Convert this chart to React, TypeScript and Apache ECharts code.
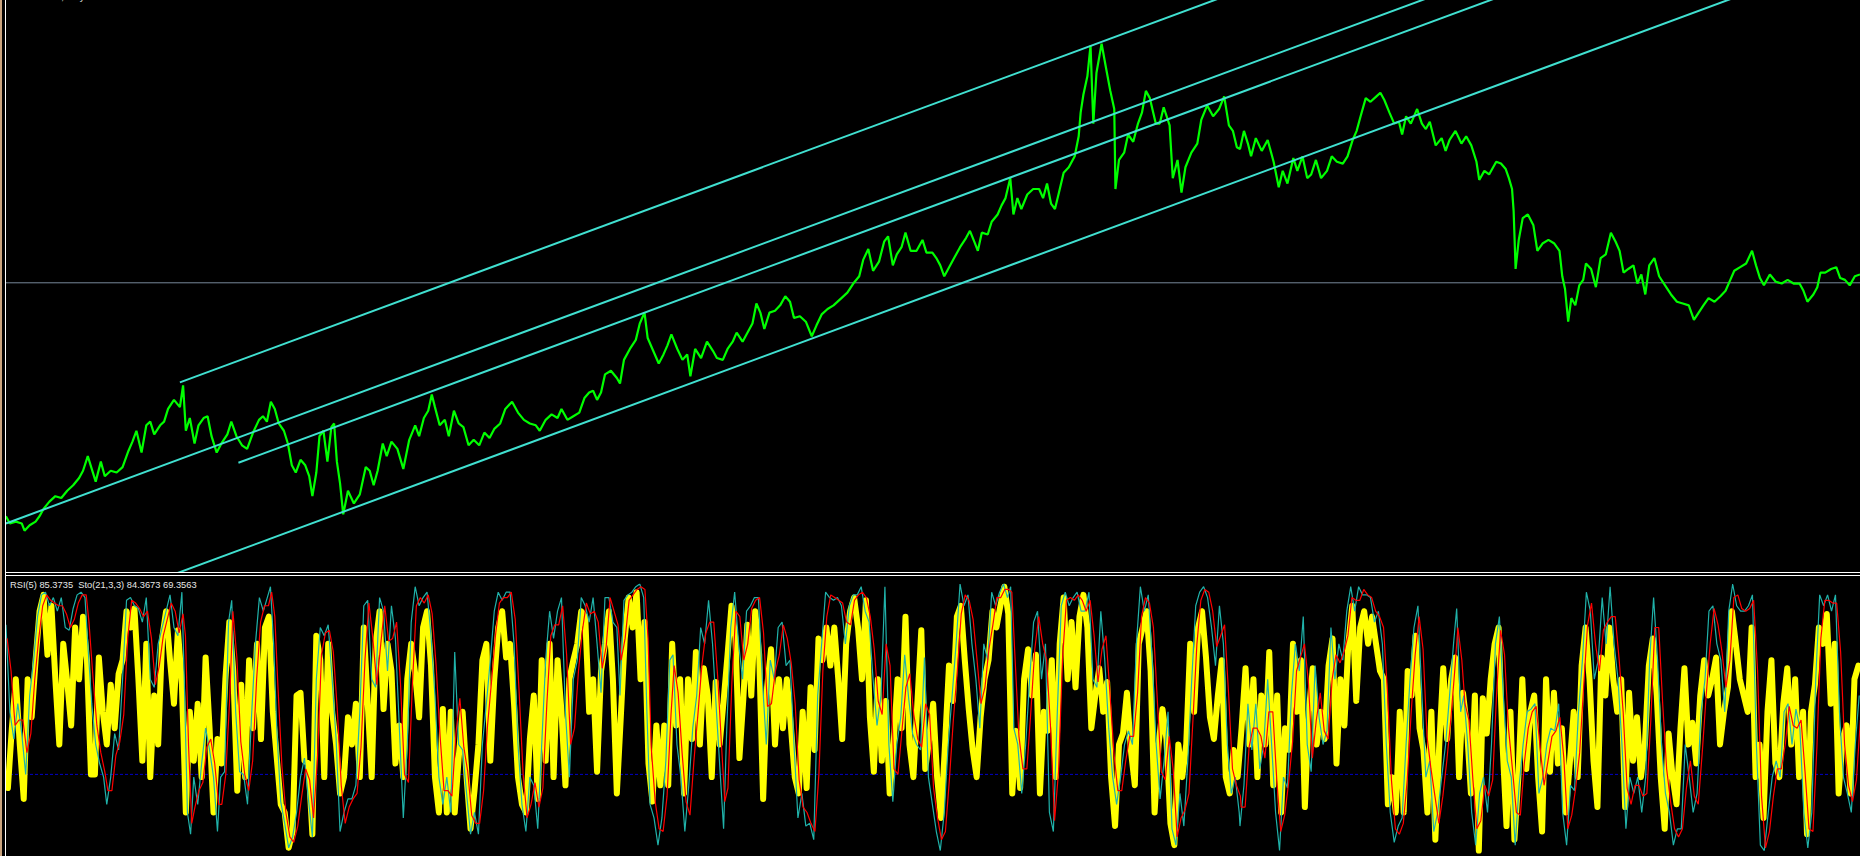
import React, { useEffect, useRef } from "react";
import * as echarts from "echarts";

// ---------------- main panel: price (bar index, close) ----------------
const priceSeg1: [number, number][] = [
  [15,0.9400],[25,0.9300],[40,0.9325],[55,0.9300],[62,0.9200],[75,0.9275],[90,0.9325],[100,0.9400],[110,0.9500],[125,0.9600],[140,0.9675],[155,0.9650],[170,0.9750],[185,0.9825],[200,0.9925],[210,1.0025],[222,1.0225],[232,1.0050],[242,0.9875],[255,1.0150],[265,0.9950],[280,1.0025],[295,1.0000],[310,1.0075],[325,1.0300],[335,1.0425],[345,1.0575],[358,1.0275],[370,1.0650],[380,1.0700],[390,1.0525],[405,1.0650],[415,1.0700],[425,1.0875],[440,1.1000],[455,1.0900],[463,1.1200],[470,1.0575],[480,1.0750],[492,1.0400],[502,1.0650],[515,1.0750],[525,1.0775],[535,1.0500],[548,1.0275],[560,1.0400],[575,1.0525],[585,1.0700],[598,1.0500],[612,1.0375],[625,1.0325],[640,1.0550],[655,1.0725],[665,1.0775],[675,1.0700],[685,1.0975],[695,1.0875],[705,1.0675],[718,1.0575],[728,1.0400],[738,1.0100],[748,1.0000],[760,1.0175],[772,1.0100],[782,0.9950],[790,0.9675],[800,1.0000],[808,1.0500],[818,1.0575],[828,1.0150],[838,1.0625],[845,1.0675],[852,1.0150],[860,0.9850],[868,0.9425],[880,0.9750],[895,0.9575],[910,0.9700],[925,1.0075],[935,1.0025],[945,0.9825],[955,1.0025],[968,1.0400],[978,1.0225],[990,1.0425],[1005,1.0325],[1020,1.0050],[1035,1.0450],[1050,1.0650],[1060,1.0500],[1072,1.0750],[1083,1.0850],[1092,1.1075],[1100,1.0900],[1112,1.0650],[1125,1.0725],[1135,1.0500],[1148,1.0850],[1160,1.0675],[1172,1.0625],[1185,1.0375],[1198,1.0450],[1212,1.0375],[1225,1.0550],[1238,1.0475],[1250,1.0600],[1265,1.0675],[1278,1.0875],[1295,1.0975],[1310,1.0825],[1325,1.0725],[1340,1.0675],[1355,1.0650],[1365,1.0575],[1380,1.0725],[1395,1.0800],[1410,1.0750],[1420,1.0875],[1435,1.0725],[1450,1.0775],[1465,1.0825],[1478,1.1025],[1490,1.1100],[1500,1.1125],[1510,1.1000],[1520,1.1100],[1530,1.1350],[1545,1.1400],[1560,1.1300],
];
const priceSeg2: [number, number][] = [
  [1568,1.1225],[1578,1.1550],[1593,1.1700],[1608,1.1825],[1618,1.2050],[1630,1.2200],[1638,1.1850],[1650,1.1700],[1666,1.1500],[1678,1.1625],[1688,1.1750],[1698,1.1900],[1713,1.1700],[1726,1.1550],[1738,1.1625],[1746,1.1325],[1758,1.1700],[1773,1.1575],[1788,1.1800],[1803,1.1675],[1813,1.1575],[1828,1.1550],[1840,1.1700],[1853,1.1800],[1863,1.1925],[1878,1.1800],[1893,1.1950],[1903,1.2050],[1913,1.2325],[1923,1.2200],[1933,1.1975],[1946,1.2200],[1960,1.2225],[1973,1.2300],[1986,1.2425],[1998,1.2350],[2008,1.2125],[2023,1.2150],[2038,1.2075],[2053,1.1875],[2065,1.2025],[2078,1.2175],[2093,1.2250],[2108,1.2300],[2128,1.2400],[2143,1.2475],[2158,1.2600],[2173,1.2700],[2183,1.2925],[2196,1.3075],[2208,1.2775],[2223,1.2900],[2236,1.3175],[2246,1.3250],[2258,1.2850],[2268,1.3000],[2280,1.3100],[2290,1.3300],[2303,1.3050],[2318,1.3050],[2333,1.3200],[2343,1.3025],[2358,1.3025],[2368,1.2950],[2378,1.2850],[2388,1.2700],[2398,1.2800],[2413,1.2950],[2428,1.3100],[2443,1.3225],[2453,1.3325],[2466,1.3150],[2473,1.3050],[2483,1.3300],[2498,1.3275],[2508,1.3450],[2523,1.3550],[2533,1.3675],[2543,1.3775],[2555,1.4050],[2563,1.3550],[2573,1.3775],[2583,1.3625],[2598,1.3825],[2613,1.3900],[2628,1.3900],[2638,1.3775],[2648,1.3975],[2658,1.3700],[2668,1.3625],[2678,1.3850],[2690,1.4125],[2703,1.4200],[2718,1.4350],[2728,1.4625],[2733,1.4950],[2740,1.5200],[2750,1.5450],[2758,1.5875],[2765,1.4800],[2773,1.5500],[2786,1.5900],[2796,1.5600],[2808,1.5250],[2818,1.5000],[2821,1.3900],[2830,1.4300],[2843,1.4400],[2853,1.4650],[2866,1.4550],[2878,1.4800],[2888,1.4950],[2898,1.5250],[2908,1.5150],[2923,1.4800],[2933,1.4800],[2943,1.5025],[2958,1.4775],[2966,1.4050],[2978,1.4300],[2988,1.3850],[2998,1.4200],[3013,1.4400],[3028,1.4525],[3038,1.4850],[3053,1.5050],[3068,1.4900],[3083,1.5000],[3096,1.5175],[3108,1.4775],[3118,1.4700],[3128,1.4475],
];
const priceSeg3: [number, number][] = [
  [3136,1.4450],[3146,1.4700],[3156,1.4525],[3164,1.4350],[3176,1.4600],[3191,1.4425],[3206,1.4575],[3221,1.4275],[3234,1.3925],[3244,1.4150],[3256,1.3975],[3271,1.4325],[3281,1.4150],[3294,1.4350],[3306,1.4050],[3316,1.4100],[3328,1.4300],[3341,1.4050],[3356,1.4150],[3368,1.4350],[3381,1.4275],[3396,1.4250],[3408,1.4350],[3421,1.4575],[3431,1.4700],[3441,1.4900],[3454,1.5150],[3466,1.5100],[3481,1.5175],[3491,1.5225],[3501,1.5125],[3514,1.4950],[3526,1.4800],[3538,1.4825],[3546,1.4650],[3556,1.4900],[3568,1.4800],[3584,1.5000],[3596,1.4800],[3606,1.4725],[3616,1.4825],[3631,1.4500],[3646,1.4600],[3656,1.4425],[3666,1.4575],[3681,1.4700],[3696,1.4525],[3708,1.4625],[3721,1.4500],[3734,1.4275],[3741,1.4025],[3754,1.4150],[3766,1.4100],[3784,1.4275],[3796,1.4250],[3808,1.4175],[3816,1.4050],[3824,1.3900],[3828,1.3600],[3833,1.2800],[3841,1.3200],[3851,1.3500],[3864,1.3550],[3878,1.3400],[3888,1.3050],[3901,1.3150],[3916,1.3200],[3931,1.3150],[3944,1.3050],[3951,1.2700],[3958,1.2525],[3966,1.2075],[3974,1.2400],[3984,1.2300],[3994,1.2575],[4004,1.2650],[4011,1.2875],[4024,1.2800],[4036,1.2550],[4048,1.2950],[4061,1.3000],[4074,1.3300],[4086,1.3175],[4096,1.3050],[4106,1.2750],[4118,1.2800],[4131,1.2850],[4141,1.2600],[4151,1.2725],[4161,1.2450],[4171,1.2850],[4184,1.2950],[4196,1.2700],[4211,1.2575],[4226,1.2450],[4241,1.2350],[4256,1.2325],[4271,1.2300],[4284,1.2100],[4296,1.2200],[4308,1.2300],[4321,1.2400],[4336,1.2350],[4351,1.2425],[4364,1.2500],[4376,1.2650],[4386,1.2775],[4401,1.2825],[4416,1.2875],[4431,1.3050],[4441,1.2850],[4451,1.2675],[4461,1.2575],[4476,1.2725],[4491,1.2625],[4506,1.2600],[4521,1.2650],[4536,1.2600],[4551,1.2600],[4561,1.2500],[4571,1.2350],[4586,1.2450],[4596,1.2550],[4604,1.2750],[4616,1.2750],[4631,1.2800],[4644,1.2825],[4654,1.2675],[4666,1.2650],[4678,1.2575],[4691,1.2700],[4704,1.2725],
];
const bidPrice = 1.261;

// trend lines: [startBar, startPrice], [endBar, endPrice]
const trendA: [number, number][] = [[455, 1.124], [3100, 1.6556]];
const trendB: [number, number][] = [[15, 0.930], [3620, 1.6546]];
const trendC: [number, number][] = [[603, 1.0135], [3780, 1.652]];
const trendD: [number, number][] = [[400, 0.852], [4400, 1.656]];

// ---------------- lower panel ----------------
const rsiLevel = 30;
const rsiStartBar = 20;
const rsiStepBars = 10;
const rsiValues: number[] = [
  25,47,65,41,21,65,51,72,90,96,74,92,65,41,78,64,48,84,65,88,72,30,30,73,53,41,63,47,67,72,90,84,91,65,35,78,29,59,41,80,90,72,56,83,63,16,53,35,56,29,73,47,16,43,34,65,86,68,24,63,29,72,47,78,43,84,88,53,36,19,16,3,9,59,60,35,34,8,81,72,29,78,53,41,23,29,51,41,56,29,84,56,29,78,90,54,78,68,34,48,29,65,78,67,51,84,90,70,29,16,54,16,53,16,36,53,29,10,24,41,72,78,35,65,84,90,73,78,56,29,19,16,43,59,21,72,35,78,29,72,53,26,65,72,78,90,88,53,65,31,68,78,90,65,23,
  51,80,95,84,97,65,86,34,20,48,26,48,26,78,48,65,23,65,43,75,41,69,59,29,64,41,57,74,92,80,36,58,85,59,90,74,21,62,76,41,65,47,65,48,29,23,53,25,62,39,80,72,84,70,84,65,43,78,90,95,84,65,94,51,31,65,35,57,23,41,65,47,88,41,29,56,83,32,43,56,29,14,41,70,57,88,92,72,54,39,29,51,65,72,90,84,92,99,89,23,46,25,65,76,59,74,23,53,46,72,29,78,95,65,86,62,88,96,84,47,59,69,53,64,29,11,41,45,60,39,26,78,84,90,68,16,41,54,43,12,4,41,29,41,78,53,84,90,73,51,43,59,72,29,23,39,29,
  47,69,41,65,29,59,41,75,26,59,16,47,39,78,53,72,18,53,69,41,53,43,70,80,34,65,48,78,92,57,84,90,78,88,78,68,65,19,29,16,53,16,68,59,81,47,39,16,53,6,41,69,43,65,73,29,60,47,23,59,2,58,45,65,78,84,41,11,53,6,29,65,32,53,59,29,9,65,31,60,34,47,16,34,53,29,70,84,65,35,18,73,59,84,65,53,65,18,60,35,51,29,41,70,80,59,29,10,45,29,19,47,69,41,49,34,59,72,59,65,73,41,53,62,90,78,65,59,53,84,29,41,14,53,72,34,29,56,69,41,65,29,53,8,53,63,84,78,89,56,78,23,43,48,23,65,70,
];
// [bar, %K main, %D signal]
const stochSeg1: [number, number, number][] = [
  [15,85,80],[25,53,68],[35,43,48],[45,56,50],[55,45,50],[65,30,38],[75,59,45],[85,72,65],[95,88,80],[105,96,92],[115,97,96],[125,92,94],[135,95,93],[145,90,92],[155,95,92],[165,84,89],[175,83,84],[185,91,87],[195,96,93],[205,97,96],[215,95,96],[222,78,86],[232,56,66],[242,41,48],[252,34,38],[262,29,31],[270,19,24],[280,29,24],[290,45,37],[300,39,42],[310,65,52],[320,94,80],[330,95,94],[340,92,93],[350,91,91],[360,86,88],[370,95,90],[380,65,80],[390,62,63],[400,78,70],[410,84,81],[420,90,87],[430,96,93],[440,84,90],[450,81,82],[460,97,89],[466,65,81],[474,16,40],[482,8,12],[490,29,18],[500,19,24],[510,34,27],[520,47,40],[530,39,43],[540,29,34],[550,9,19],[558,29,19],[568,31,30],[578,86,58],[586,94,90],[596,53,73],[606,31,42],[616,30,30],[626,19,24],[636,51,35],[646,78,65],[656,95,86],[666,90,92],[676,95,92],[684,99,97],[692,78,88],[700,47,62],[710,20,33],[720,12,16],[730,3,7],[740,7,5],[750,16,11],[760,29,22],[770,36,32],[780,21,28],[790,7,14],[800,65,36],[810,84,74],[820,81,82],[830,85,83],[840,65,75],[850,43,54],[860,9,26],[870,16,12],[880,21,18],[890,21,21],[900,26,23],[910,53,40],[920,92,72],[930,94,93],[940,65,80],[950,62,63],[960,95,78],[970,90,92],[980,68,79],[990,92,80],[1000,80,86],[1010,47,63],[1020,14,30],[1030,41,27],[1040,86,63],[1050,99,92],[1060,92,95],[1070,95,93],[1080,97,96],[1090,81,89],[1100,59,70],[1110,29,44],[1120,19,24],[1130,29,24],[1140,16,22],[1150,75,45],[1160,41,58],[1170,39,40],[1180,23,31],[1190,8,15],[1200,16,12],[1210,8,12],[1220,41,24],[1230,56,48],[1240,72,64],[1250,90,81],[1260,97,93],[1270,94,95],[1280,97,95],[1290,97,97],[1300,78,87],[1310,41,60],[1320,19,30],[1330,9,14],[1340,29,19],[1350,26,27],[1360,10,18],[1370,41,25],[1380,72,56],[1390,90,81],[1400,80,85],[1410,90,85],[1420,95,92],[1430,53,74],[1440,29,41],[1450,65,47],[1460,72,68],[1470,95,83],[1480,92,93],[1490,86,89],[1500,95,90],[1510,78,86],[1520,60,69],[1530,95,77],[1540,95,95],[1550,86,90],[1560,84,85],
];
const stochSeg2: [number, number, number][] = [
  [1568,59,72],[1578,94,80],[1588,96,94],[1598,97,96],[1608,99,98],[1618,100,99],[1628,95,98],[1636,53,80],[1644,19,40],[1654,14,20],[1664,4,10],[1674,14,9],[1684,35,22],[1694,72,52],[1702,74,70],[1712,41,60],[1722,29,38],[1732,9,20],[1742,26,15],[1752,47,35],[1762,59,52],[1772,84,70],[1782,78,82],[1792,94,86],[1802,78,86],[1812,53,66],[1822,29,40],[1830,10,20],[1838,47,25],[1848,84,64],[1858,97,90],[1868,78,88],[1878,65,72],[1888,90,78],[1898,92,91],[1908,95,94],[1918,95,95],[1928,65,82],[1938,41,55],[1948,72,56],[1958,65,68],[1968,84,74],[1978,86,85],[1988,70,80],[1998,72,71],[2008,41,56],[2018,14,28],[2028,23,18],[2038,11,16],[2048,12,12],[2058,6,9],[2068,59,30],[2078,78,68],[2088,97,88],[2098,95,96],[2108,94,95],[2118,95,94],[2128,92,93],[2138,78,86],[2148,92,85],[2158,96,94],[2168,96,96],[2178,99,97],[2188,90,95],[2198,86,88],[2208,65,76],[2218,48,57],[2228,59,52],[2238,99,78],[2248,41,70],[2258,20,32],[2268,41,30],[2278,51,46],[2288,74,62],[2298,58,67],[2308,45,52],[2318,41,43],[2328,39,40],[2338,73,56],[2348,29,52],[2358,19,25],[2368,9,14],[2378,2,6],[2388,16,9],[2398,41,28],[2408,59,50],[2418,78,68],[2428,100,89],[2438,92,96],[2448,96,94],[2458,78,87],[2468,65,72],[2478,47,56],[2488,78,62],[2498,72,76],[2508,97,85],[2518,92,95],[2528,97,95],[2538,100,98],[2548,95,98],[2556,99,97],[2564,47,73],[2574,41,44],[2584,23,32],[2594,41,32],[2604,65,53],[2614,86,76],[2624,90,88],[2634,65,78],[2644,78,72],[2654,16,47],[2664,9,13],[2674,53,31],[2684,92,72],[2694,97,94],[2704,92,95],[2714,95,94],[2724,97,96],[2734,90,94],[2744,90,90],[2754,97,94],[2764,65,81],[2774,62,64],[2784,90,76],[2794,72,81],[2804,47,60],[2814,29,38],[2824,19,24],[2834,29,24],[2844,41,35],[2854,46,44],[2864,41,44],[2874,78,60],[2884,99,88],[2894,90,95],[2904,96,93],[2914,72,84],[2924,41,57],[2934,21,31],[2944,35,28],[2954,53,44],[2964,10,32],[2974,4,7],[2984,23,14],[2994,11,17],[3004,35,23],[3014,65,50],[3024,92,78],[3034,97,94],[3044,99,98],[3054,95,97],[3064,84,90],[3074,70,77],[3084,92,81],[3094,78,85],[3104,41,60],[3114,23,32],[3124,29,26],[3134,16,22],
];
const stochSeg3: [number, number, number][] = [
  [3136,11,18],[3146,26,18],[3156,56,40],[3166,39,47],[3176,56,47],[3186,32,44],[3196,41,36],[3206,65,53],[3216,41,53],[3226,16,28],[3236,2,9],[3246,29,15],[3256,25,27],[3266,59,42],[3276,78,68],[3286,68,73],[3296,88,78],[3306,41,64],[3316,31,36],[3326,70,50],[3336,51,60],[3346,41,46],[3356,46,43],[3366,84,65],[3376,65,74],[3386,78,71],[3396,72,75],[3406,90,81],[3416,99,95],[3426,90,94],[3436,99,94],[3446,96,98],[3456,96,96],[3466,95,95],[3476,86,90],[3486,90,88],[3496,78,84],[3506,41,60],[3516,16,28],[3526,5,10],[3536,11,8],[3546,14,12],[3556,41,28],[3566,65,53],[3576,84,74],[3586,92,88],[3596,59,76],[3606,29,44],[3616,35,32],[3626,9,22],[3636,16,12],[3646,29,22],[3656,41,35],[3666,59,50],[3676,78,68],[3684,91,84],[3694,53,72],[3702,59,56],[3712,41,50],[3722,16,28],[3732,4,10],[3742,23,13],[3752,29,26],[3762,16,22],[3772,41,28],[3782,78,60],[3792,88,83],[3802,59,74],[3812,35,47],[3822,29,32],[3832,4,16],[3842,26,15],[3852,41,34],[3862,53,47],[3872,54,53],[3882,56,55],[3892,23,40],[3902,29,26],[3912,41,35],[3922,47,44],[3932,46,46],[3942,56,51],[3952,16,36],[3962,4,10],[3972,26,15],[3982,24,25],[3992,53,38],[4002,72,62],[4012,97,85],[4022,90,93],[4032,65,78],[4042,72,68],[4052,95,83],[4062,78,86],[4072,99,88],[4082,78,88],[4092,65,72],[4102,41,53],[4112,10,25],[4122,29,19],[4132,23,26],[4142,29,26],[4152,16,22],[4162,29,23],[4172,72,50],[4182,95,84],[4192,72,84],[4202,41,56],[4212,23,32],[4222,16,20],[4232,4,10],[4242,10,7],[4252,10,10],[4262,41,25],[4272,29,35],[4282,16,22],[4292,23,19],[4302,53,38],[4312,65,59],[4322,90,78],[4332,92,91],[4342,78,85],[4352,72,75],[4362,53,62],[4372,90,72],[4382,100,95],[4392,92,96],[4402,90,91],[4412,90,90],[4422,92,91],[4432,96,94],[4442,41,68],[4452,4,22],[4462,2,3],[4472,16,9],[4482,29,22],[4492,35,32],[4502,29,32],[4512,53,41],[4522,56,55],[4532,41,48],[4542,54,47],[4552,47,50],[4562,16,31],[4572,3,10],[4582,16,9],[4592,65,40],[4602,96,80],[4612,92,94],[4622,96,94],[4632,90,93],[4642,96,93],[4652,53,75],[4662,29,41],[4672,23,26],[4682,16,20],[4692,41,28],[4702,59,50],
];

const headerText = "EURUSD,Daily  1.2718 1.2735 1.2701 1.2716";
const indicatorText = "RSI(5) 85.3735  Sto(21,3,3) 84.3673 69.3563";

const TOTAL_BARS = 4704;

export default function App() {
  const ref = useRef<HTMLDivElement>(null);
  useEffect(() => {
    if (!ref.current) return;
    const chart = echarts.init(ref.current, null, { renderer: "svg" });
    const price = [...priceSeg1, ...priceSeg2, ...priceSeg3];
    const stoch = [...stochSeg1, ...stochSeg2, ...stochSeg3];
    const rsi = rsiValues.map((v, i) => [rsiStartBar + i * rsiStepBars, v]);
    const plain = { type: "line", showSymbol: false, symbol: "none", silent: true, clip: true };
    const trend = (d: [number, number][]) => ({
      ...plain, xAxisIndex: 0, yAxisIndex: 0, data: d,
      lineStyle: { color: "#40E0D0", width: 2 }, z: 3,
    });
    const option: any = {
      animation: false,
      backgroundColor: "#000000",
      grid: [
        { left: 0, top: 0, width: 1860, height: 572 },
        { left: 0, top: 584, width: 1860, height: 272 },
      ],
      xAxis: [
        { type: "value", gridIndex: 0, min: 0, max: TOTAL_BARS, show: false },
        { type: "value", gridIndex: 1, min: 0, max: TOTAL_BARS, show: false },
      ],
      yAxis: [
        { type: "value", gridIndex: 0, min: 0.86321, max: 1.65, show: false, scale: true },
        { type: "value", gridIndex: 1, min: 0, max: 100, show: false },
      ],
      series: [
        { ...plain, xAxisIndex: 0, yAxisIndex: 0, data: [[0, bidPrice], [TOTAL_BARS, bidPrice]],
          lineStyle: { color: "#778899", width: 1 }, z: 1 },
        { ...plain, xAxisIndex: 0, yAxisIndex: 0, data: price,
          lineStyle: { color: "#00FF00", width: 2.2 }, z: 2 },
        trend(trendA), trend(trendB), trend(trendC), trend(trendD),
        { ...plain, xAxisIndex: 1, yAxisIndex: 1, data: [[0, rsiLevel], [TOTAL_BARS, rsiLevel]],
          lineStyle: { color: "#0000C8", width: 1, type: [3, 2] }, z: 1 },
        { ...plain, xAxisIndex: 1, yAxisIndex: 1, data: rsi,
          lineStyle: { color: "#FFFF00", width: 6, cap: "round", join: "round" }, z: 2 },
        { ...plain, xAxisIndex: 1, yAxisIndex: 1, data: stoch.map((r) => [r[0], r[1]]),
          lineStyle: { color: "#20B2AA", width: 1.2 }, z: 3 },
        { ...plain, xAxisIndex: 1, yAxisIndex: 1, data: stoch.map((r) => [r[0] + 3, r[2]]),
          lineStyle: { color: "#FF0000", width: 1.2 }, z: 4 },
      ],
      graphic: [
        { type: "rect", z: 100, shape: { x: 0, y: 0, width: 2, height: 856 }, style: { fill: "#C8A27C" } },
        { type: "rect", z: 100, shape: { x: 2, y: 0, width: 3, height: 856 }, style: { fill: "#000000" } },
        { type: "rect", z: 100, shape: { x: 5, y: 0, width: 1, height: 856 }, style: { fill: "#FFFFFF" } },
        { type: "rect", z: 100, shape: { x: 5, y: 572, width: 1855, height: 1 }, style: { fill: "#FFFFFF" } },
        { type: "rect", z: 100, shape: { x: 6, y: 573, width: 1854, height: 2 }, style: { fill: "#000000" } },
        { type: "rect", z: 100, shape: { x: 5, y: 575, width: 1855, height: 1 }, style: { fill: "#FFFFFF" } },
        { type: "text", z: 100, left: 22, top: -8,
          style: { text: headerText, fill: "#E8E8E8", font: '9.3px "Liberation Sans", Arial, sans-serif' } },
        { type: "text", z: 100, left: 10, top: 580,
          style: { text: indicatorText, fill: "#E6E6E6", font: '9.3px "Liberation Sans", Arial, sans-serif' } },
      ],
    };
    chart.setOption(option);
    return () => chart.dispose();
  }, []);
  return (
    <div
      ref={ref}
      style={{ position: "fixed", left: 0, top: 0, width: 1860, height: 856, background: "#000" }}
    />
  );
}
